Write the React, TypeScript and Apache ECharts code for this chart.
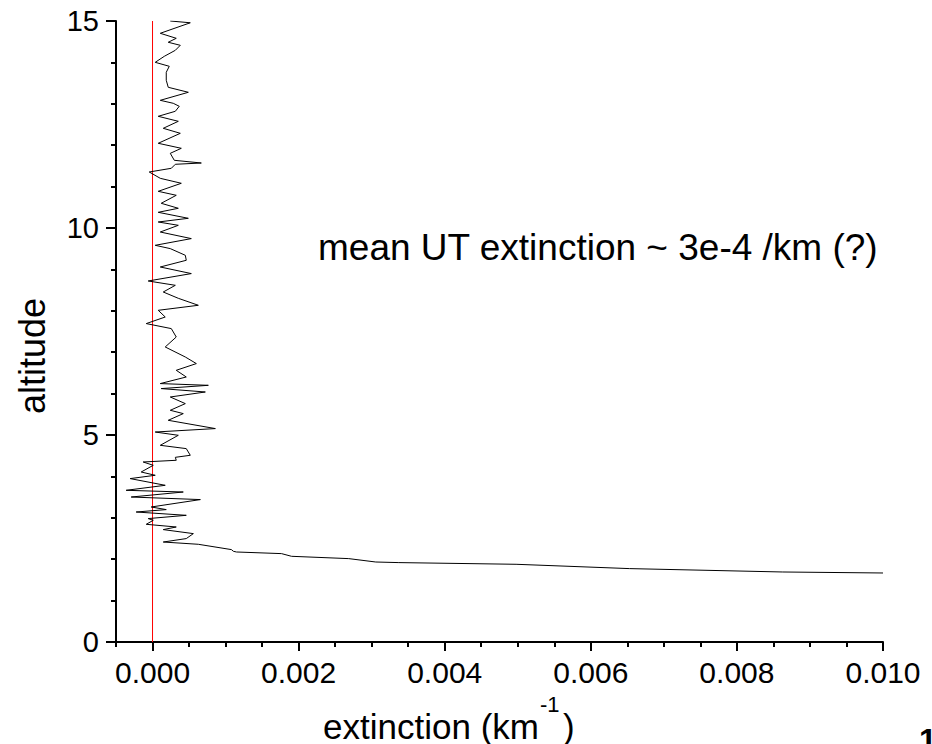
import React, { useEffect, useRef } from "react";
import * as echarts from "echarts";

// profile: altitude (km) and extinction (km^-1)
const altitude = [
  15.0, 14.957, 14.703, 14.582, 14.486, 14.413, 14.292, 14.147, 14.002, 13.906,
  13.761, 13.568, 13.399, 13.278, 13.084, 13.012, 12.94, 12.819, 12.698, 12.577,
  12.408, 12.287, 12.046, 11.925, 11.804, 11.635, 11.57, 11.539, 11.442, 11.353,
  11.2, 11.08, 10.886, 10.79, 10.597, 10.476, 10.379, 10.234, 10.145, 10.065,
  9.903, 9.744, 9.582, 9.502, 9.341, 9.22, 9.058, 8.899, 8.72, 8.616,
  8.454, 8.302, 8.133, 8.012, 7.85, 7.691, 7.57, 7.367, 7.126, 6.884,
  6.725, 6.563, 6.401, 6.242, 6.2, 6.121, 6.039, 5.918, 5.758, 5.597,
  5.517, 5.355, 5.155, 5.072, 4.993, 4.751, 4.671, 4.51, 4.461, 4.389,
  4.348, 4.268, 4.106, 4.027, 3.947, 3.785, 3.664, 3.623, 3.502, 3.44,
  3.261, 3.198, 3.14, 3.06, 2.981, 2.94, 2.843, 2.778, 2.715, 2.618,
  2.498, 2.415, 2.36, 2.232, 2.191, 2.174, 2.135, 2.07, 2.014, 1.932,
  1.918, 1.877, 1.773, 1.691, 1.667,
];
const extinction = [
  0.000243, 0.000517, 0.000106, 0.000325, 0.000215, 0.00038, 0.000312, 0.000161, 0.000037, 0.000229,
  0.000188, 0.000188, 0.000215, 0.00049, 0.000106, 0.000284, 0.000366, 0.000312, 0.000078, 0.000353,
  0.000147, 0.00038, 0.000078, 0.000394, 0.000243, 0.000298, 0.000668, 0.000312, 0.000257, -0.000045,
  0.000106, 0.000394, 0.000078, 0.000325, 0.000119, 0.000353, 0.000078, 0.00049, 0.000078, 0.000353,
  0.000106, 0.000531, 0.000037, 0.000243, 0.000449, 0.000462, 0.000106, 0.000531, -0.000059, 0.000312,
  0.000147, 0.000353, 0.000627, 0.000078, 0.000174, -0.000086, 0.000257, 0.000325, 0.000174, 0.000449,
  0.0006, 0.000325, 0.000462, 0.000106, 0.000764, 0.000119, 0.000723, 0.000243, 0.000449, 0.000243,
  0.000421, 0.000215, 0.00086, 0.000037, 0.000353, 0.000106, 0.000462, 0.000517, 0.000312, 0.000325,
  -0.000128, 0.00001, -0.000155, 0.000037, -0.000306, 0.000174, -0.000361, 0.000421, -0.000292, 0.000655,
  -0.000018, 0.000188, -0.000224, 0.000462, -0.000059, 0.00001, -0.000086, 0.000325, 0.000147, 0.000559,
  0.000462, 0.000147, 0.000627, 0.00108, 0.001107, 0.001149, 0.001766, 0.001903, 0.002686, 0.003056,
  0.003372, 0.004977, 0.006528, 0.008628, 0.01,
];
const zeroLineX = [0, 0];
const zeroLineY = [0, 15];

const xMajorTicks = [0, 0.002, 0.004, 0.006, 0.008, 0.01];
const xMinorTicks = [
  -0.0005, 0.0005, 0.001, 0.0015, 0.0025, 0.003, 0.0035, 0.0045, 0.005, 0.0055,
  0.0065, 0.007, 0.0075, 0.0085, 0.009, 0.0095,
];
const yTicks = [0, 5, 10, 15];

const FONT = "'Liberation Sans', Arial, sans-serif";

export default function App() {
  const ref = useRef<HTMLDivElement>(null);
  useEffect(() => {
    if (!ref.current) return;
    const chart = echarts.init(ref.current, null, { renderer: "svg" });
    const profile = altitude.map((a, i) => [extinction[i], a]);
    const zero = zeroLineX.map((x, i) => [x, zeroLineY[i]]);
    chart.setOption({
      animation: false,
      backgroundColor: "#fff",
      grid: { left: 116, right: 49, top: 21, bottom: 102, containLabel: false },
      xAxis: [
        {
          type: "value",
          min: -0.0005,
          max: 0.01,
          position: "bottom",
          axisLine: { show: true, onZero: false, lineStyle: { color: "#000", width: 2 } },
          axisTick: { show: true, customValues: xMajorTicks, length: 9, lineStyle: { color: "#000", width: 2 } },
          axisLabel: {
            show: true,
            customValues: xMajorTicks,
            formatter: (v: number) => v.toFixed(3),
            color: "#000",
            fontSize: 30,
            fontFamily: FONT,
            margin: 15,
          },
          splitLine: { show: false },
        },
        {
          type: "value",
          min: -0.0005,
          max: 0.01,
          position: "bottom",
          axisLine: { show: false, onZero: false },
          axisTick: { show: true, customValues: xMinorTicks, length: 5, lineStyle: { color: "#000", width: 2 } },
          axisLabel: { show: false },
          splitLine: { show: false },
        },
      ],
      yAxis: {
        type: "value",
        min: 0,
        max: 15,
        interval: 5,
        axisLine: { show: true, onZero: false, lineStyle: { color: "#000", width: 2 } },
        axisTick: { show: true, customValues: yTicks, length: 10, lineStyle: { color: "#000", width: 2 } },
        minorTick: { show: true, splitNumber: 5, length: 5, lineStyle: { color: "#000", width: 2 } },
        axisLabel: { color: "#000", fontSize: 29, fontFamily: FONT, margin: 17 },
        splitLine: { show: false },
        minorSplitLine: { show: false },
      },
      graphic: [
        {
          type: "text",
          x: 32,
          y: 356,
          rotation: Math.PI / 2,
          style: {
            text: "altitude",
            fontSize: 36,
            fontFamily: FONT,
            fill: "#000",
            align: "center",
            verticalAlign: "middle",
          },
        },
        {
          type: "text",
          x: 539,
          y: 726,
          style: {
            text: "extinction (km",
            fontSize: 35,
            fontFamily: FONT,
            fill: "#000",
            align: "right",
            verticalAlign: "middle",
          },
        },
        {
          type: "text",
          x: 540,
          y: 704,
          style: {
            text: "-1",
            fontSize: 22,
            fontFamily: FONT,
            fill: "#000",
            align: "left",
            verticalAlign: "middle",
          },
        },
        {
          type: "text",
          x: 563,
          y: 726,
          style: {
            text: ")",
            fontSize: 35,
            fontFamily: FONT,
            fill: "#000",
            align: "left",
            verticalAlign: "middle",
          },
        },
        {
          type: "text",
          x: 318,
          y: 247,
          style: {
            text: "mean UT extinction ~ 3e-4 /km (?)",
            fontSize: 37,
            fontFamily: FONT,
            fill: "#000",
            align: "left",
            verticalAlign: "middle",
          },
        },
        {
          type: "text",
          x: 919,
          y: 724,
          style: {
            text: "1",
            fontSize: 32,
            fontWeight: "bold",
            fontFamily: FONT,
            fill: "#000",
            align: "left",
            verticalAlign: "top",
          },
        },
      ],
      series: [
        {
          type: "line",
          xAxisIndex: 0,
          data: zero,
          symbol: "none",
          lineStyle: { color: "#ff0000", width: 1 },
          silent: true,
          z: 1,
        },
        {
          type: "line",
          xAxisIndex: 0,
          data: profile,
          symbol: "none",
          smooth: false,
          lineStyle: { color: "#000", width: 1 },
          clip: true,
          z: 2,
        },
      ],
    });
    return () => chart.dispose();
  }, []);
  return (
    <div
      ref={ref}
      style={{ position: "fixed", left: 0, top: 0, width: 932, height: 744, background: "#fff" }}
    />
  );
}
